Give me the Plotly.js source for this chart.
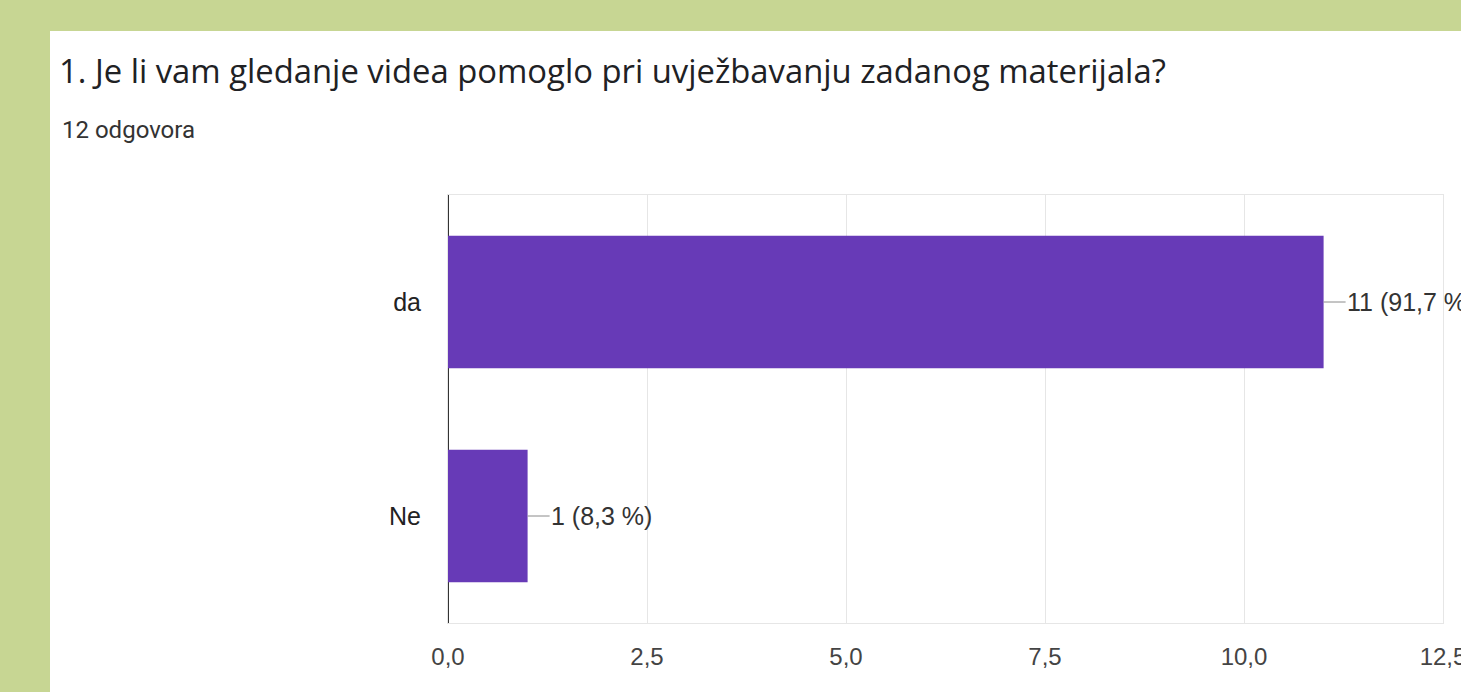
<!DOCTYPE html>
<html>
<head>
<meta charset="utf-8">
<script src="https://cdn.plot.ly/plotly-3.0.1.min.js"></script>
<style>
html,body{margin:0;padding:0;background:#c7d693;width:1461px;height:692px;overflow:hidden;}
#panel{position:absolute;left:50px;top:31px;width:1411px;height:661px;background:#ffffff;}
#chart{position:absolute;left:0;top:0;width:1520px;height:692px;}
</style>
</head>
<body>
<div id="panel"></div>
<div id="chart"></div>
<script>
const categories = ['da', 'Ne'];
const counts = [11, 1];
const labels = ['11 (91,7 %)', '1 (8,3 %)'];
const xTicks = [0, 2.5, 5, 7.5, 10, 12.5];
const titleText = '1. Je li vam gledanje videa pomoglo pri uvježbavanju zadanog materijala?';
const subtitleText = '12 odgovora';

const W = 1520;

const trace = {
  type: 'bar',
  orientation: 'h',
  y: categories,
  x: counts,
  marker: {color: '#673ab7'},
  width: 0.62,
  hoverinfo: 'x+y'
};

const annotations = categories.map((c, i) => ({
  x: counts[i], y: c, xref: 'x', yref: 'y',
  text: labels[i], showarrow: true, arrowhead: 0, arrowwidth: 1,
  arrowcolor: '#8a8a8a', ax: 22, ay: 0, xanchor: 'left', borderpad: 0,
  font: {family: 'Liberation Sans, Arial, sans-serif', size: 25, color: '#333333'}
}));
annotations.push({
  xref: 'paper', yref: 'paper', x: (60 - 448) / 995, y: 1 + (195 - 130) / 428,
  xanchor: 'left', yanchor: 'middle', showarrow: false, text: subtitleText,
  font: {family: 'Roboto, sans-serif', size: 24, color: '#333333'}
});

const layout = {
  width: W, height: 692,
  paper_bgcolor: 'rgba(0,0,0,0)', plot_bgcolor: '#ffffff',
  margin: {l: 448, r: W - 1443, t: 195, b: 69},
  separators: ', ',
  showlegend: false,
  title: {
    text: titleText, xref: 'container', yref: 'container',
    x: 59 / W, xanchor: 'left', y: 1 - 72 / 692, yanchor: 'middle',
    font: {family: 'Open Sans, sans-serif', size: 32.8, color: '#202124'}
  },
  xaxis: {
    range: [0, 12.5], tickvals: xTicks, tickformat: '.1f',
    showgrid: true, gridcolor: '#e6e6e6', gridwidth: 1,
    zeroline: true, zerolinecolor: '#333333', zerolinewidth: 2,
    showline: true, linecolor: '#e6e6e6', linewidth: 1, mirror: true,
    ticks: '', ticklabelstandoff: 12,
    tickfont: {family: 'Liberation Sans, Arial, sans-serif', size: 24, color: '#444444'},
    fixedrange: true
  },
  yaxis: {
    type: 'category', autorange: 'reversed',
    showgrid: false, zeroline: false,
    showline: true, linecolor: '#e6e6e6', linewidth: 1, mirror: 'allticks',
    ticks: '',
    ticklabelstandoff: 21,
    tickfont: {family: 'Liberation Sans, Arial, sans-serif', size: 25, color: '#222222'},
    fixedrange: true
  },
  annotations: annotations
};

Plotly.newPlot('chart', [trace], layout, {displayModeBar: false, staticPlot: true});
</script>
</body>
</html>
